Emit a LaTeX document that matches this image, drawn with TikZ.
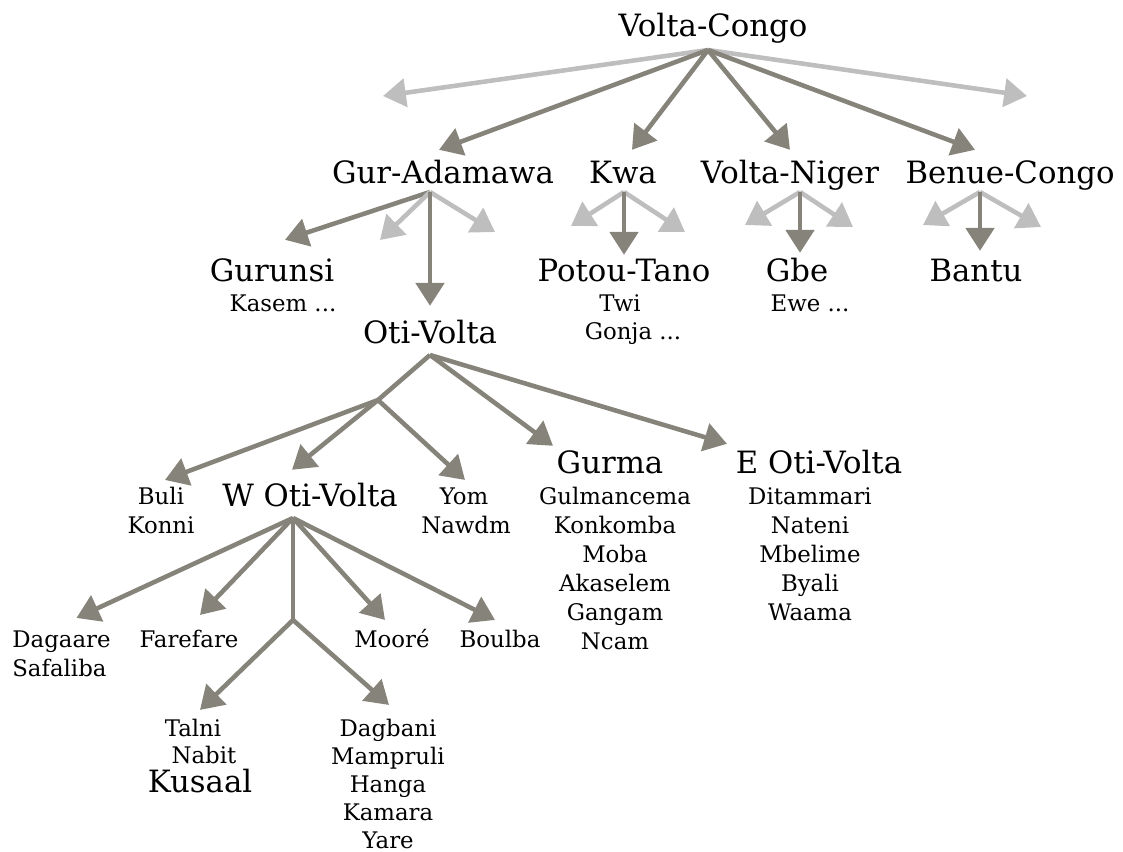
\documentclass[tikz,border=0pt]{standalone}
\usepackage{fontspec}
\setmainfont{DejaVu Serif}
\usetikzlibrary{arrows.meta,calc}
\definecolor{linkdark}{RGB}{134,132,122}
\definecolor{linklight}{RGB}{190,190,190}
\tikzset{
  group/.style={font=\fontsize{17.5}{21}\selectfont,inner sep=0pt,text height=13pt,text depth=4pt,anchor=base},
  lang/.style={font=\fontsize{13}{16}\selectfont,inner sep=0pt,text height=9.5pt,text depth=3pt,anchor=base},
  stem/.style={draw=linkdark,line width=2.6pt},
  link/.style={stem,-{Triangle[length=13pt,width=16pt]}},
  ghost/.style={link,draw=linklight}
}

\begin{document}
\begin{tikzpicture}[x=0.02cm,y=-0.02cm]
\useasboundingbox (0,0) rectangle (1123,852);

\node[group] (vc) at (713,36) {Volta-Congo};
\node[group] (ga) at (443,183) {Gur-Adamawa};
\node[group] (kwa) at (623,183) {Kwa};
\node[group] (vn) at (790,183) {Volta-Niger};
\node[group] (bc) at (1010,183) {Benue-Congo};

\node[group] (gur) at (272,281) {Gurunsi};
\node[lang] (kas) at (283,311) {Kasem ...};
\node[group] (ov) at (430,343) {Oti-Volta};
\node[group] (pt) at (624,281) {Potou-Tano};
\node[lang] (twi) at (620,311) {Twi};
\node[lang] (gon) at (633,339) {Gonja ...};
\node[group] (gbe) at (797,281) {Gbe};
\node[lang] (ewe) at (810,311) {Ewe ...};
\node[group] (ban) at (976,281) {Bantu};

\node[lang] (buli) at (161,504) {Buli};
\node[lang] (kon) at (161,533) {Konni};
\node[group] (wov) at (310,506) {W Oti-Volta};
\node[lang] (yom) at (464,504) {Yom};
\node[lang] (naw) at (466,533) {Nawdm};
\node[group] (gm) at (610,473) {Gurma};
\node[group] (eov) at (819,473) {E Oti-Volta};
\foreach \l [count=\i] in {Gulmancema,Konkomba,Moba,Akaselem,Gangam,Ncam}
  \node[lang] (gm\i) at (615,{475+29*\i}) {\l};
\foreach \l [count=\i] in {Ditammari,Nateni,Mbelime,Byali,Waama}
  \node[lang] (eo\i) at (810,{475+29*\i}) {\l};

\node[lang,anchor=base west] (dag) at (12,647) {Dagaare};
\node[lang,anchor=base west] (saf) at (12,676) {Safaliba};
\node[lang] (far) at (189,647) {Farefare};
\node[lang] (moo) at (392,647) {Mooré};
\node[lang] (bou) at (500,647) {Boulba};
\node[lang] (tal) at (193,736) {Talni};
\node[lang] (nab) at (204,763) {Nabit};
\node[group] (kus) at (200,792) {Kusaal};
\foreach \l [count=\i] in {Dagbani,Mampruli,Hanga,Kamara,Yare}
  \node[lang] (db\i) at (388,{708+28*\i}) {\l};

\coordinate (vc-b) at (708,50);
\coordinate (vc-l) at (383,96);
\coordinate (vc-r) at (1027,96);
\coordinate (ga-b) at (430,192);
\coordinate (ga-l) at (380,240);
\coordinate (ga-r) at (495,232);
\coordinate (kwa-b) at (624,192);
\coordinate (kwa-l) at (571,226);
\coordinate (kwa-r) at (685,232);
\coordinate (vn-b) at (800,192);
\coordinate (vn-l) at (745,225);
\coordinate (vn-r) at (853,227);
\coordinate (bc-b) at (980,192);
\coordinate (bc-l) at (923,225);
\coordinate (bc-r) at (1041,227);
\coordinate (ov-b) at (430,355);
\coordinate (ov-m) at (378,400);
\coordinate (wov-b) at (293,518);
\coordinate (wov-m) at (293,620);

\draw[ghost] (vc-b) -- (vc-l);
\draw[ghost] (vc-b) -- (vc-r);
\draw[link] (vc-b) -- ($(ga.north)+(-4,-10)$);
\draw[link] (vc-b) -- ($(kwa.north)+(9,-10)$);
\draw[link] (vc-b) -- ($(vn.north)+(0,-10)$);
\draw[link] (vc-b) -- ($(bc.north)+(-35,-10)$);

\draw[link] (ga-b) -- ($(gur.north)+(13,-18)$);
\draw[ghost] (ga-b) -- (ga-l);
\draw[ghost] (ga-b) -- (ga-r);
\draw[link] (ga-b) -- ($(ov.north)+(0,-14)$);

\draw[ghost] (kwa-b) -- (kwa-l);
\draw[ghost] (kwa-b) -- (kwa-r);
\draw[link] (kwa-b) -- ($(pt.north)+(0,-3)$);
\draw[ghost] (vn-b) -- (vn-l);
\draw[ghost] (vn-b) -- (vn-r);
\draw[link] (vn-b) -- ($(gbe.north)+(3,-5)$);
\draw[ghost] (bc-b) -- (bc-l);
\draw[ghost] (bc-b) -- (bc-r);
\draw[link] (bc-b) -- ($(ban.north)+(4,-7)$);

\draw[stem] (ov-b) -- (ov-m);
\draw[link] (ov-m) -- ($(buli.north)+(4,-7)$);
\draw[link] (ov-m) -- ($(wov.north)+(-18,-13)$);
\draw[link] (ov-m) -- ($(yom.north)+(1,-7)$);
\draw[link] (ov-b) -- ($(gm.north)+(-57,-4)$);
\draw[link] (ov-b) -- ($(eov.north)+(-92,-6)$);

\draw[link] (wov-b) -- ($(dag.north)+(15,-12)$);
\draw[link] (wov-b) -- ($(far.north)+(11,-15)$);
\draw[stem] (wov-b) -- (wov-m);
\draw[link] (wov-b) -- ($(moo.north)+(-7,-10)$);
\draw[link] (wov-b) -- ($(bou.north)+(-5,-10)$);
\draw[link] (wov-m) -- ($(tal.north)+(7,-9)$);
\draw[link] (wov-m) -- ($(db1.north)+(1,-14)$);
\end{tikzpicture}
\end{document}
